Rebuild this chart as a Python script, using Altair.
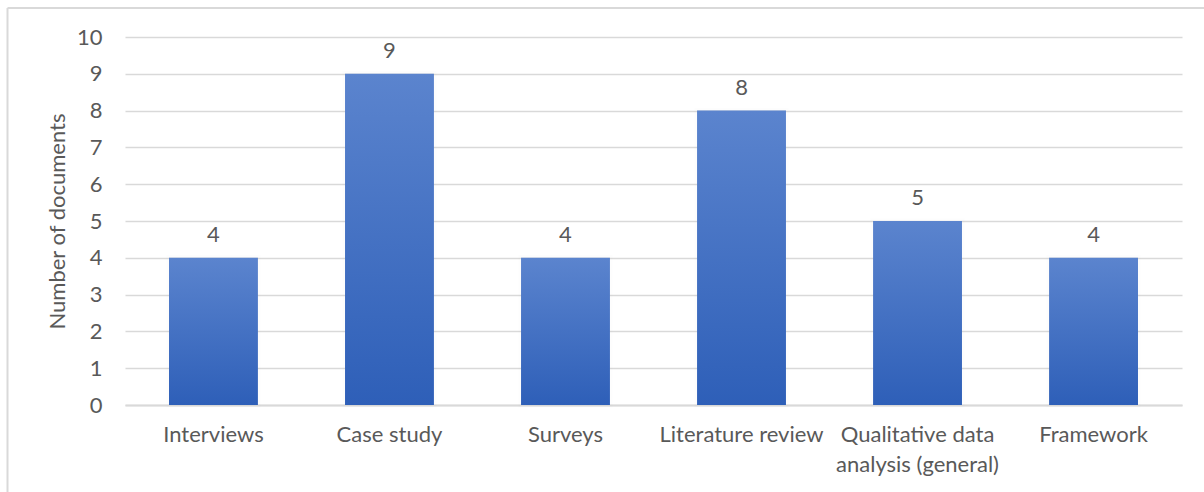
import altair as alt
import pandas as pd

# Number of documents per research method
methods = [
    "Interviews",
    "Case study",
    "Surveys",
    "Literature review",
    "Qualitative data analysis (general)",
    "Framework",
]
counts = [4, 9, 4, 8, 5, 4]

df = pd.DataFrame({"method": methods, "count": counts})

FONT = "Lato"
FS = 22
TEXT = "#595959"
GRID = "#d9d9d9"
W, H = 1057, 368
PAD = {"left": 125, "top": 37, "right": 22, "bottom": 87}

bar_fill = alt.LinearGradient(
    gradient="linear",
    stops=[
        alt.GradientStop(color="#5b84ce", offset=0),
        alt.GradientStop(color="#2e5fb8", offset=1),
    ],
    x1=1, x2=1, y1=0, y2=1,
)

x_enc = alt.X(
    "method:N",
    sort=methods,
    scale=alt.Scale(paddingInner=0.495, paddingOuter=0.25),
    axis=alt.Axis(
        title=None,
        labelAngle=0,
        labelFont=FONT,
        labelFontSize=FS,
        labelColor=TEXT,
        labelPadding=19,
        labelLineHeight=30,
        labelLimit=300,
        labelExpr="datum.label === 'Qualitative data analysis (general)' ? ['Qualitative data', 'analysis (general)'] : datum.label",
        domainColor=GRID,
        domainWidth=2,
        ticks=False,
    ),
)
y_enc = alt.Y(
    "count:Q",
    scale=alt.Scale(domain=[0, 10]),
    axis=alt.Axis(
        title="Number of documents",
        titleFont=FONT,
        titleFontSize=FS,
        titleFontWeight="normal",
        titleColor=TEXT,
        titlePadding=7,
        values=list(range(0, 11)),
        labelFont=FONT,
        labelFontSize=FS,
        labelColor=TEXT,
        labelPadding=23,
        domain=False,
        ticks=False,
        gridColor=GRID,
        gridWidth=1.5,
    ),
)

base = alt.Chart(df)

shadow = base.mark_bar(
    color="#000000", opacity=0.10, stroke="#000000", strokeOpacity=0.06, strokeWidth=5
).encode(x=x_enc, y=y_enc)

bars = base.mark_bar(color=bar_fill).encode(x=x_enc, y=y_enc)

labels = base.mark_text(
    font=FONT, fontSize=FS, color=TEXT, baseline="alphabetic", dy=-16
).encode(x=x_enc, y=y_enc, text="count:Q")

# Thin frame lines along the top and left of the figure
frame_top = alt.Chart(pd.DataFrame({"k": [0]})).mark_rule(
    color=GRID, strokeWidth=2
).encode(
    x=alt.value(7.5 - PAD["left"]),
    x2=alt.value(W + PAD["right"]),
    y=alt.value(8 - PAD["top"]),
)
frame_left = alt.Chart(pd.DataFrame({"k": [0]})).mark_rule(
    color=GRID, strokeWidth=2
).encode(
    x=alt.value(7.5 - PAD["left"]),
    y=alt.value(8 - PAD["top"]),
    y2=alt.value(H + PAD["bottom"]),
)

chart = (
    alt.layer(shadow, bars, labels, frame_top, frame_left)
    .properties(width=W, height=H, autosize="none", padding=PAD, background="white")
    .configure_view(stroke=None)
)

chart.save("out.html", embed_options={"renderer": "svg", "actions": False})
